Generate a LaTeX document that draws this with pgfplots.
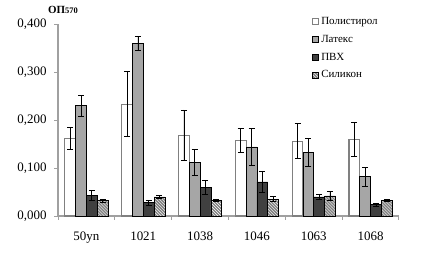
\documentclass[border=0pt]{standalone}
\usepackage{pgfplots}
\pgfplotsset{compat=1.18}
\usepackage{fontspec}
\setmainfont{Liberation Serif}
\usetikzlibrary{patterns}
\definecolor{latexgray}{HTML}{A6A6A6}
\definecolor{pvcgray}{HTML}{404040}
\definecolor{axgray}{HTML}{A0A0A0}
\begin{document}
\begin{tikzpicture}
\begin{axis}[
  name=ax,
  scale only axis,
  width=341bp, height=192bp,
  ybar=0pt,
  bar width=0.19,
  xmin=-0.5, xmax=5.5,
  ymin=0, ymax=0.4,
  xtick={0,1,2,3,4,5},
  xticklabels={50yn,1021,1038,1046,1063,1068},
  minor xtick={-0.5,0.5,1.5,2.5,3.5,4.5,5.5},
  ytick={0,0.1,0.2,0.3,0.4},
  axis x line*=bottom,
  axis y line*=left,
  axis line style={axgray, line width=1.2pt, -},
  tick align=outside,
  major tick length=4pt,
  minor tick length=4pt,
  major x tick style={draw=none},
  minor x tick style={axgray, line width=1pt},
  major y tick style={axgray, line width=1pt},
  tick label style={font=\fontsize{13}{15}\selectfont},
  xticklabel style={yshift=-8pt},
  yticklabel style={xshift=-4pt},
  /pgf/number format/assume math mode=true,
  yticklabel={\pgfmathprintnumber[fixed, fixed zerofill, precision=3, use comma]{\tick}},
  scaled y ticks=false,
  legend style={draw=none, fill=none, at={(rel axis cs:0.745,1.045)}, anchor=north west,
    font=\fontsize{11}{12}\selectfont, row sep=5pt, inner sep=0pt,
    legend cell align=left},
  legend image code/.code={\draw[#1] (0pt,-3pt) rectangle (6pt,3pt);},
  error bars/y dir=both,
  error bars/y explicit,
  error bars/error bar style={black, line width=0.7pt},
  error bars/error mark options={rotate=90, mark size=3pt, black, line width=0.7pt},
  clip=false,
]
\addplot[draw=gray, line width=1.1pt, fill=white] coordinates {
  (0,0.162) +- (0,0.023)
  (1,0.233) +- (0,0.068)
  (2,0.168) +- (0,0.053)
  (3,0.157) +- (0,0.025)
  (4,0.156) +- (0,0.036)
  (5,0.160) +- (0,0.035)
};
\addplot[draw=black, line width=0.6pt, fill=latexgray] coordinates {
  (0,0.230) +- (0,0.022)
  (1,0.360) +- (0,0.015)
  (2,0.112) +- (0,0.027)
  (3,0.144) +- (0,0.038)
  (4,0.132) +- (0,0.029)
  (5,0.082) +- (0,0.020)
};
\addplot[draw=black, line width=0.6pt, fill=pvcgray] coordinates {
  (0,0.043) +- (0,0.010)
  (1,0.028) +- (0,0.005)
  (2,0.060) +- (0,0.014)
  (3,0.071) +- (0,0.022)
  (4,0.040) +- (0,0.005)
  (5,0.024) +- (0,0.003)
};
\addplot[draw=black, line width=0.6pt, fill=gray, postaction={pattern=north west lines, pattern color=white}] coordinates {
  (0,0.032) +- (0,0.003)
  (1,0.040) +- (0,0.003)
  (2,0.032) +- (0,0.002)
  (3,0.035) +- (0,0.005)
  (4,0.042) +- (0,0.010)
  (5,0.033) +- (0,0.002)
};
\legend{Полистирол,Латекс,ПВХ,Силикон}
\end{axis}
\path (ax.south west) ++(-58bp,-42bp) rectangle ++(429bp,258bp);
\node[anchor=base west, inner sep=0pt, font=\bfseries\fontsize{11}{12}\selectfont] at ([shift={(-10bp,10bp)}]ax.north west) {ОП\fontsize{8.5}{9}\selectfont570};
\end{tikzpicture}
\end{document}
